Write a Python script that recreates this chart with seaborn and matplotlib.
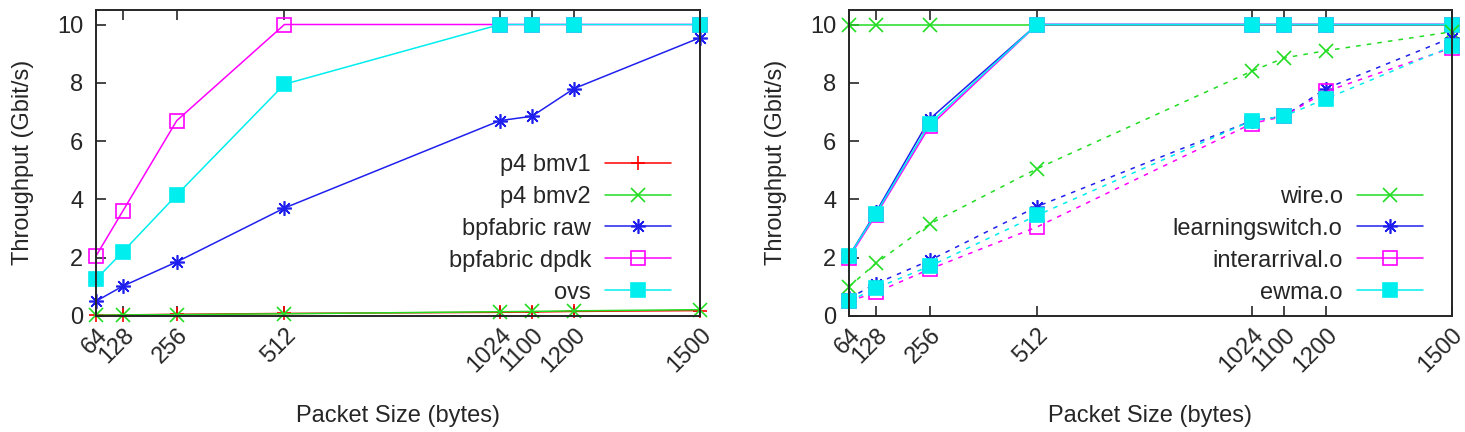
import numpy as np
import pandas as pd
import matplotlib
matplotlib.use("Agg")
import matplotlib.pyplot as plt
import seaborn as sns

# packet sizes (bytes)
sizes = [64, 128, 256, 512, 1024, 1100, 1200, 1500]

# left panel: software switches
p4_bmv1 = [0.02, 0.03, 0.05, 0.08, 0.12, 0.13, 0.15, 0.18]
p4_bmv2 = [0.02, 0.03, 0.04, 0.07, 0.14, 0.15, 0.17, 0.21]
bpf_raw = [0.5, 1.02, 1.85, 3.7, 6.7, 6.85, 7.8, 9.55]
bpf_dpdk = [2.05, 3.6, 6.7, 10.0, 10.0, 10.0, 10.0, 10.0]
ovs = [1.25, 2.2, 4.15, 7.95, 10.0, 10.0, 10.0, 10.0]

# right panel: bpfabric programs (solid = dpdk, dashed = raw)
wire_solid = [10.0, 10.0, 10.0, 10.0, 10.0, 10.0, 10.0, 10.0]
learn_solid = [2.05, 3.55, 6.75, 10.0, 10.0, 10.0, 10.0, 10.0]
inter_solid = [2.0, 3.45, 6.5, 10.0, 10.0, 10.0, 10.0, 10.0]
ewma_solid = [2.05, 3.5, 6.6, 10.0, 10.0, 10.0, 10.0, 10.0]
wire_dash = [1.0, 1.8, 3.15, 5.05, 8.4, 8.85, 9.1, 9.75]
learn_dash = [0.6, 1.1, 1.9, 3.75, 6.7, 6.85, 7.8, 9.55]
inter_dash = [0.5, 0.8, 1.6, 3.05, 6.6, 6.85, 7.7, 9.2]
ewma_dash = [0.5, 0.95, 1.7, 3.45, 6.7, 6.85, 7.45, 9.25]

RED, GREEN, BLUE, MAGENTA, CYAN = "#ff0000", "#22dd22", "#2020ee", "#ff00ff", "#00eeee"
ASTER = (8, 2, 0)
FS = 17

sns.set_style("ticks")
plt.rcParams["font.family"] = ["Liberation Sans", "DejaVu Sans"]
plt.rcParams["font.size"] = FS

fig = plt.figure(figsize=(14.65, 4.32), dpi=100)
ax1 = fig.add_axes([0.0655, 0.269, 0.4125, 0.708])
ax2 = fig.add_axes([0.5795, 0.269, 0.4115, 0.708])


def draw(ax, y, color, marker, label, ls="-", mfc=None, legend=True):
    df = pd.DataFrame({"size": sizes, "tput": y})
    kw = dict(markerfacecolor=mfc if mfc is not None else color,
              markeredgecolor=color)
    sns.lineplot(data=df, x="size", y="tput", ax=ax, color=color, marker=marker,
                 linestyle=ls, linewidth=1.1, markersize=10.5, markeredgewidth=1.2,
                 label=label if legend else None, legend=legend, clip_on=False,
                 **kw)


draw(ax1, p4_bmv1, RED, "+", "p4 bmv1")
draw(ax1, p4_bmv2, GREEN, "x", "p4 bmv2")
draw(ax1, bpf_raw, BLUE, ASTER, "bpfabric raw")
draw(ax1, bpf_dpdk, MAGENTA, "s", "bpfabric dpdk", mfc="none")
draw(ax1, ovs, CYAN, "s", "ovs")

draw(ax2, wire_solid, GREEN, "x", "wire.o")
draw(ax2, learn_solid, BLUE, ASTER, "learningswitch.o")
draw(ax2, inter_solid, MAGENTA, "s", "interarrival.o", mfc="none")
draw(ax2, ewma_solid, CYAN, "s", "ewma.o")
draw(ax2, wire_dash, GREEN, "x", None, ls=(0, (3, 4)), legend=False)
draw(ax2, learn_dash, BLUE, ASTER, None, ls=(0, (3, 4)), legend=False)
draw(ax2, inter_dash, MAGENTA, "s", None, ls=(0, (3, 4)), mfc="none", legend=False)
draw(ax2, ewma_dash, CYAN, "s", None, ls=(0, (3, 4)), legend=False)

for ax in (ax1, ax2):
    ax.set_xlim(64, 1500)
    ax.set_ylim(0, 10.5)
    ax.set_xticks(sizes)
    ax.set_xticklabels([str(s) for s in sizes], rotation=45, ha="right",
                       rotation_mode="anchor", fontsize=FS)
    ax.set_yticks([0, 2, 4, 6, 8, 10])
    ax.tick_params(axis="y", labelsize=FS, pad=9)
    ax.tick_params(axis="x", pad=6)
    ax.tick_params(direction="in", length=7, width=1.2, top=True, right=False)
    ax.set_xlabel("Packet Size (bytes)", fontsize=FS, labelpad=20)
    ax.set_ylabel("Throughput (Gbit/s)", fontsize=FS, labelpad=17)
    for sp in ax.spines.values():
        sp.set_linewidth(1.4)
        sp.set_visible(True)
    ax.legend(loc="lower right", bbox_to_anchor=(0.952, 0.04), frameon=False,
              markerfirst=False, handlelength=2.8, fontsize=FS,
              labelspacing=0.42, handletextpad=0.6, borderpad=0,
              borderaxespad=0)

fig.savefig("out.png", dpi=100)
